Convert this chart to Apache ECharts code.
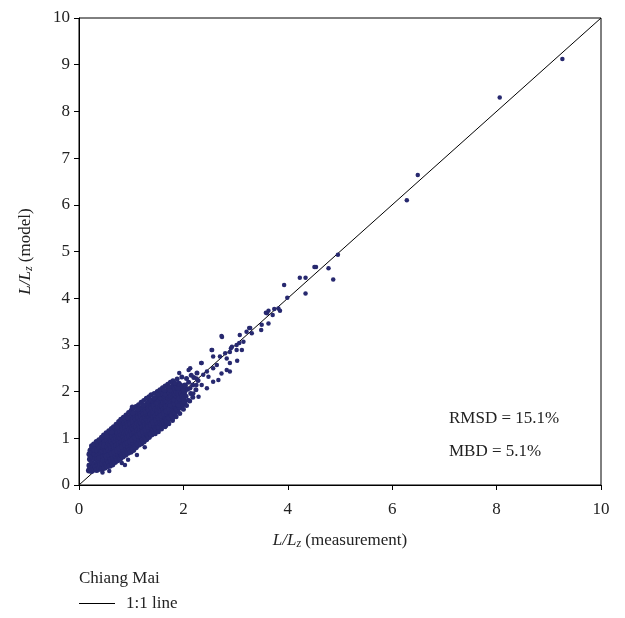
<!DOCTYPE html>
<html>
<head>
<meta charset="utf-8">
<script src="https://cdn.jsdelivr.net/npm/echarts@6/dist/echarts.min.js"></script>
<style>
  html, body { margin: 0; padding: 0; background: #fff; }
  #chart { width: 625px; height: 618px; }
</style>
</head>
<body>
<div id="chart"></div>
<script>
// axis ticks
const xTicks = [0, 2, 4, 6, 8, 10]
const yTicks = [0, 1, 2, 3, 4, 5, 6, 7, 8, 9, 10]

// dense part of the cloud, [measurement, model]
const cluster = [
  [0.19,0.31],[0.2,0.42],[0.21,0.55],[0.2,0.66],[0.22,0.36],[0.22,0.74],
  [0.24,0.30],[0.25,0.47],[0.26,0.61],[0.25,0.78],[0.27,0.38],[0.26,0.70],
  [0.29,0.33],[0.3,0.44],[0.31,0.56],[0.3,0.67],[0.31,0.83],[0.32,0.39],[0.29,0.76],
  [0.34,0.32],[0.35,0.48],[0.36,0.62],[0.35,0.74],[0.34,0.88],[0.37,0.41],[0.36,0.55],
  [0.39,0.35],[0.4,0.50],[0.41,0.65],[0.4,0.79],[0.42,0.92],[0.41,0.43],[0.39,0.58],[0.42,0.71],
  [0.44,0.34],[0.45,0.46],[0.46,0.60],[0.45,0.73],[0.44,0.86],[0.46,0.99],[0.47,0.53],[0.47,0.80],
  [0.49,0.37],[0.5,0.50],[0.51,0.64],[0.5,0.77],[0.49,0.91],[0.51,1.03],[0.52,0.44],[0.52,0.70],[0.48,0.84],
  [0.54,0.40],[0.55,0.54],[0.56,0.68],[0.55,0.82],[0.54,0.96],[0.56,1.08],[0.57,0.47],[0.57,0.75],[0.53,0.61],[0.57,0.89],
  [0.59,0.41],[0.6,0.57],[0.61,0.71],[0.6,0.86],[0.59,1.00],[0.61,1.13],[0.62,0.50],[0.62,0.79],[0.58,0.64],[0.62,0.93],
  [0.64,0.44],[0.65,0.60],[0.66,0.74],[0.65,0.89],[0.64,1.04],[0.66,1.18],[0.67,0.52],[0.67,0.82],[0.63,0.67],[0.67,0.97],[0.68,1.10],
  [0.69,0.49],[0.7,0.62],[0.71,0.77],[0.7,0.92],[0.69,1.07],[0.71,1.22],[0.72,0.56],[0.72,0.85],[0.68,0.70],[0.72,1.00],[0.73,1.14],
  [0.74,0.53],[0.75,0.66],[0.76,0.81],[0.75,0.96],[0.74,1.11],[0.76,1.27],[0.77,0.59],[0.77,0.88],[0.73,0.74],[0.77,1.03],[0.78,1.19],
  [0.79,0.57],[0.8,0.70],[0.81,0.85],[0.8,1.00],[0.79,1.15],[0.81,1.31],[0.82,0.63],[0.82,0.92],[0.78,0.78],[0.82,1.07],[0.83,1.23],
  [0.84,0.61],[0.85,0.74],[0.86,0.89],[0.85,1.04],[0.84,1.19],[0.86,1.35],[0.87,0.67],[0.87,0.96],[0.83,0.82],[0.87,1.11],[0.88,1.27],
  [0.89,0.65],[0.9,0.78],[0.91,0.93],[0.9,1.08],[0.89,1.23],[0.91,1.39],[0.92,0.71],[0.92,1.00],[0.88,0.86],[0.92,1.15],[0.93,1.31],
  [0.94,0.69],[0.95,0.82],[0.96,0.97],[0.95,1.12],[0.94,1.27],[0.96,1.44],[0.97,0.75],[0.97,1.04],[0.93,0.90],[0.97,1.19],[0.98,1.35],
  [0.99,0.71],[1.0,0.85],[1.01,1.00],[1.0,1.16],[0.99,1.31],[1.01,1.49],[1.02,0.78],[1.02,1.08],[0.98,0.93],[1.02,1.23],[1.03,1.40],
  [1.04,0.75],[1.05,0.89],[1.06,1.04],[1.05,1.20],[1.04,1.35],[1.06,1.53],[1.07,0.82],[1.07,1.12],[1.03,0.97],[1.07,1.27],[1.08,1.44],
  [1.09,0.81],[1.1,0.94],[1.11,1.09],[1.1,1.24],[1.09,1.40],[1.11,1.57],[1.12,0.87],[1.12,1.17],[1.08,1.02],[1.12,1.32],[1.13,1.48],
  [1.14,0.86],[1.15,0.99],[1.16,1.13],[1.15,1.28],[1.14,1.44],[1.16,1.61],[1.17,0.92],[1.17,1.21],[1.13,1.06],[1.17,1.36],[1.18,1.52],
  [1.19,0.89],[1.2,1.03],[1.21,1.17],[1.2,1.32],[1.19,1.48],[1.21,1.65],[1.22,0.96],[1.22,1.25],[1.18,1.10],[1.22,1.40],[1.23,1.56],
  [1.24,0.93],[1.25,1.07],[1.26,1.21],[1.25,1.36],[1.24,1.52],[1.26,1.69],[1.27,1.00],[1.27,1.29],[1.23,1.14],[1.27,1.44],[1.28,1.60],
  [1.29,0.98],[1.3,1.12],[1.31,1.26],[1.3,1.41],[1.29,1.56],[1.31,1.73],[1.32,1.05],[1.32,1.33],[1.28,1.19],[1.32,1.48],[1.33,1.64],
  [1.34,1.03],[1.35,1.17],[1.36,1.31],[1.35,1.45],[1.34,1.60],[1.36,1.77],[1.37,1.10],[1.37,1.38],[1.33,1.24],[1.37,1.52],[1.38,1.68],
  [1.39,1.08],[1.4,1.22],[1.41,1.36],[1.4,1.50],[1.39,1.65],[1.41,1.81],[1.42,1.15],[1.42,1.43],[1.38,1.29],[1.42,1.57],[1.43,1.72],
  [1.44,1.13],[1.45,1.27],[1.46,1.41],[1.45,1.55],[1.44,1.69],[1.46,1.85],[1.47,1.20],[1.47,1.48],[1.43,1.34],[1.47,1.62],[1.48,1.76],
  [1.49,1.18],[1.5,1.32],[1.51,1.46],[1.5,1.60],[1.49,1.74],[1.51,1.89],[1.52,1.25],[1.52,1.53],[1.48,1.39],[1.52,1.67],[1.53,1.80],
  [1.54,1.23],[1.55,1.37],[1.56,1.51],[1.55,1.65],[1.54,1.78],[1.56,1.92],[1.57,1.30],[1.57,1.58],[1.53,1.44],[1.57,1.71],
  [1.59,1.28],[1.6,1.42],[1.61,1.56],[1.6,1.70],[1.59,1.83],[1.61,1.96],[1.62,1.35],[1.62,1.63],[1.58,1.49],[1.62,1.76],
  [1.64,1.31],[1.65,1.46],[1.66,1.60],[1.65,1.74],[1.64,1.87],[1.66,2.00],[1.67,1.39],[1.67,1.67],[1.63,1.53],[1.67,1.80],
  [1.69,1.37],[1.7,1.51],[1.71,1.65],[1.7,1.79],[1.69,1.92],[1.71,2.04],[1.72,1.44],[1.72,1.72],[1.68,1.58],[1.72,1.85],
  [1.74,1.43],[1.75,1.56],[1.76,1.70],[1.75,1.84],[1.74,1.97],[1.76,2.08],[1.77,1.50],[1.77,1.77],[1.73,1.63],[1.77,1.90],
  [1.79,1.49],[1.8,1.62],[1.81,1.75],[1.8,1.88],[1.79,2.01],[1.81,2.12],[1.82,1.56],[1.82,1.82],[1.78,1.69],[1.82,1.95],
  [1.84,1.55],[1.85,1.68],[1.86,1.80],[1.85,1.93],[1.84,2.05],[1.86,2.15],[1.87,1.62],[1.87,1.87],[1.83,1.74],[1.87,1.99],
  [1.89,1.61],[1.9,1.73],[1.91,1.85],[1.9,1.97],[1.89,2.09],[1.91,2.17],[1.92,1.67],[1.92,1.91],[1.88,1.79],[1.92,2.03],
  [1.94,1.67],[1.95,1.79],[1.96,1.90],[1.95,2.02],[1.94,2.13],[1.97,1.73],[1.97,1.96],[1.93,1.85],[1.97,2.08],
  [1.99,1.73],[2.0,1.84],[2.01,1.95],[2.0,2.06],[2.02,1.78],[2.02,2.01],[1.98,1.90],[2.03,2.13]
]

// upper and lower fringe of the cloud
const fringe = [
  [0.24,0.84],[0.28,0.88],[0.33,0.93],[0.38,0.97],[0.43,1.02],[0.47,1.07],[0.52,1.12],
  [0.57,1.16],[0.62,1.21],[0.66,1.25],[0.71,1.30],[0.76,1.36],[0.8,1.41],[0.85,1.45],
  [0.9,1.50],[0.95,1.55],[1.0,1.60],[1.04,1.64],[1.09,1.68],[1.14,1.72],[1.19,1.77],
  [1.24,1.81],[1.29,1.86],[1.34,1.89],[1.38,1.93],[1.44,1.96],[1.5,2.00],[1.55,2.04],
  [1.6,2.08],[1.65,2.12],[1.7,2.16],[1.75,2.20],[1.8,2.23],[1.88,2.27],[1.97,2.31],
  [0.93,1.44],[1.03,1.54],[1.13,1.62],[1.23,1.71],[1.33,1.79],[1.43,1.86],[1.53,1.95],
  [1.63,2.03],[1.73,2.10],[1.83,2.18],[0.73,1.24],[0.63,1.13],[0.53,1.04],[1.02,1.67],
  [1.46,1.10],[1.52,1.14],[1.58,1.20],[1.66,1.27],[1.72,1.31],[1.79,1.38],[1.86,1.46],
  [1.93,1.53],[2.0,1.62],[2.06,1.70],[2.12,1.80],[2.18,1.88],
  [2.05,1.90],[2.08,2.05],[2.1,2.20],[2.14,1.96],[2.18,2.14],[2.2,2.30],[2.24,2.04],
  [2.28,2.24],[2.15,2.35],[2.06,2.28],[2.26,2.40]
]

// sparser points along the tail and the outliers
const scattered = [
  [0.82,0.47],[0.88,0.43],[0.94,0.54],[1.11,0.64],[1.26,0.81],[1.65,1.24],[1.80,1.43],
  [0.45,0.27],[0.58,0.30],[1.36,1.82],[1.52,1.93],[1.59,1.95],
  [1.84,2.18],[1.90,2.07],[2.00,2.03],[1.74,2.03],[1.65,1.93],[1.55,1.86],[1.49,1.75],
  [1.81,1.82],[1.74,1.71],[1.90,1.71],[2.09,1.82],[2.00,1.86],[2.19,1.96],[2.29,1.89],
  [2.13,2.07],[2.25,2.14],[2.35,2.14],[2.45,2.07],[2.57,2.21],[2.67,2.25],[2.48,2.32],
  [2.25,2.28],[2.13,2.50],[2.38,2.36],[2.45,2.43],[2.73,2.39],[2.89,2.43],[2.83,2.46],
  [2.35,2.61],[2.57,2.50],[2.64,2.57],[3.03,2.66],[2.89,2.61],[2.83,2.71],[2.70,2.75],
  [2.57,2.75],[2.54,2.89],[2.80,2.82],[2.89,2.85],[3.12,2.89],[3.02,2.89],[2.93,2.96],
  [3.02,3.00],[3.15,3.07],[2.73,3.19],[3.08,3.21],[3.31,3.25],[3.21,3.28],[3.28,3.36],
  [3.50,3.43],[3.63,3.46],[3.60,3.68],[3.82,3.78],[1.92,2.40],[2.10,2.46],[2.34,2.61],
  [2.55,2.89],[2.74,3.17],[2.91,2.93],[3.07,3.04],[3.26,3.36],[3.49,3.32],
  [3.58,3.69],[3.63,3.73],[3.71,3.64],[3.74,3.77],[3.85,3.73],[3.99,4.01],[3.93,4.28],
  [4.34,4.10],[4.23,4.44],[4.34,4.44],[4.54,4.67],[4.51,4.67],[4.78,4.64],[4.87,4.40],
  [4.96,4.93],[6.28,6.10],[6.49,6.64],[8.06,8.30],[9.26,9.12]
]

// 1:1 reference line
const oneToOne = [[0, 0], [10, 10]]

const stats = ['RMSD = 15.1%', 'MBD = 5.1%']

const serif = '"Liberation Serif", "DejaVu Serif", serif'
const dotColor = '#27296f'

const chart = echarts.init(document.getElementById('chart'))

const nameRich = {
  i: { fontFamily: serif, fontSize: 17, fontStyle: 'italic', color: '#222' },
  s: { fontFamily: serif, fontSize: 12, fontStyle: 'italic', color: '#222', verticalAlign: 'bottom', padding: [6, 0, 0, 0] },
  n: { fontFamily: serif, fontSize: 17, color: '#222' }
}

const dots = (data, size) => ({
  name: 'Chiang Mai', type: 'scatter', data: data,
  symbol: 'circle', symbolSize: size, z: 3,
  itemStyle: { color: dotColor, opacity: 1 }
})

chart.setOption({
  animation: false,
  backgroundColor: '#fff',
  grid: {
    left: 79, right: 24, top: 18, bottom: 133,
    show: true, borderColor: '#000', borderWidth: 1, backgroundColor: 'transparent'
  },
  xAxis: {
    type: 'value', min: 0, max: 10, interval: 2,
    name: '{i|L/L}{s|z}{n| (measurement)}',
    nameLocation: 'middle', nameGap: 47,
    nameTextStyle: { rich: nameRich },
    axisLine: { show: true, lineStyle: { color: '#000', width: 1 } },
    axisTick: { show: true, length: 5, lineStyle: { color: '#000' } },
    axisLabel: {
      fontFamily: serif, fontSize: 17, color: '#222', margin: 16,
      formatter: v => xTicks.includes(v) ? String(v) : ''
    },
    splitLine: { show: false }
  },
  yAxis: {
    type: 'value', min: 0, max: 10, interval: 1,
    name: '{i|L/L}{s|z}{n| (model)}',
    nameLocation: 'middle', nameGap: 44, nameRotate: 90,
    nameTextStyle: { rich: nameRich },
    axisLine: { show: true, lineStyle: { color: '#000', width: 1 } },
    axisTick: { show: true, length: 5, lineStyle: { color: '#000' } },
    axisLabel: {
      fontFamily: serif, fontSize: 17, color: '#222', margin: 9,
      formatter: v => yTicks.includes(v) ? String(v) : ''
    },
    splitLine: { show: false }
  },
  legend: {
    left: 74, top: 590, orient: 'vertical',
    itemWidth: 36, itemHeight: 10, itemGap: 8,
    textStyle: { fontFamily: serif, fontSize: 17, color: '#222', padding: [0, 0, 0, 6] },
    data: [{ name: '1:1 line', icon: 'path://M0,5 L36,5 L36,6 L0,6 Z' }]
  },
  graphic: [
    { type: 'text', left: 79, top: 570, style: { text: 'Chiang Mai', font: '17px ' + serif, fill: '#222' } },
    { type: 'text', left: 449, top: 410, style: { text: stats[0], font: '17px ' + serif, fill: '#222' } },
    { type: 'text', left: 449, top: 443, style: { text: stats[1], font: '17px ' + serif, fill: '#222' } }
  ],
  series: [
    {
      name: '1:1 line', type: 'line', data: oneToOne,
      symbol: 'none', silent: true, z: 2,
      lineStyle: { color: '#000', width: 1 },
      itemStyle: { color: '#000' }
    },
    dots(cluster, 6),
    dots(fringe, 5),
    dots(scattered, 4.5)
  ]
})
</script>
</body>
</html>
